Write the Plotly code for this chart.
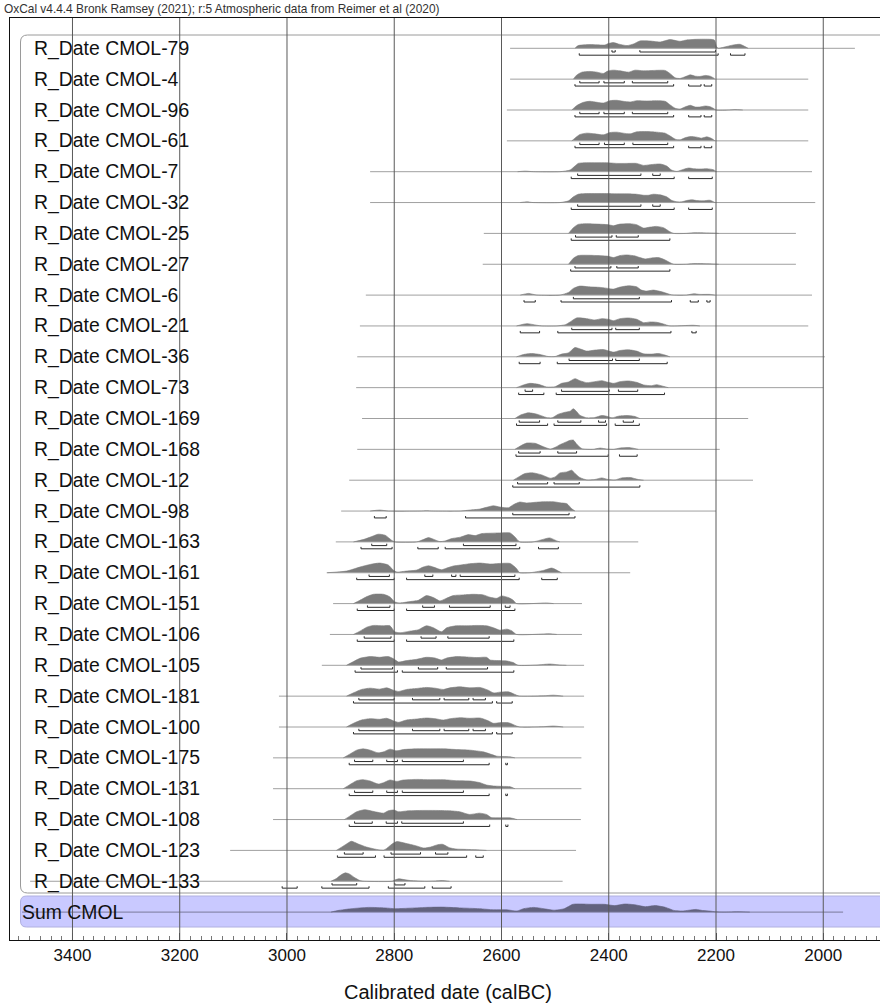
import plotly.graph_objects as go

# ---------------------------------------------------------------- data
names = [
    "R_Date CMOL-79", "R_Date CMOL-4", "R_Date CMOL-96", "R_Date CMOL-61",
    "R_Date CMOL-7", "R_Date CMOL-32", "R_Date CMOL-25", "R_Date CMOL-27",
    "R_Date CMOL-6", "R_Date CMOL-21", "R_Date CMOL-36", "R_Date CMOL-73",
    "R_Date CMOL-169", "R_Date CMOL-168", "R_Date CMOL-12", "R_Date CMOL-98",
    "R_Date CMOL-163", "R_Date CMOL-161", "R_Date CMOL-151", "R_Date CMOL-106",
    "R_Date CMOL-105", "R_Date CMOL-181", "R_Date CMOL-100", "R_Date CMOL-175",
    "R_Date CMOL-131", "R_Date CMOL-108", "R_Date CMOL-123", "R_Date CMOL-133",
]
sum_name = "Sum CMOL"

# extent of each likelihood (calBC)
line_from = [2584, 2584, 2590, 2590, 2845, 2845, 2633, 2635, 2853, 2864,
             2869, 2871, 2860, 2869, 2884, 2899, 2909, 2925, 2914, 2920,
             2935, 3015, 3015, 3026, 3026, 3026, 3106, 3479]
line_to = [1941, 2028, 2028, 2028, 2021, 2015, 2051, 2051, 2021, 2028,
           1997, 2000, 2140, 2193, 2131, 2200, 2345, 2360, 2450, 2450,
           2446, 2446, 2446, 2451, 2451, 2452, 2461, 2486]
sum_from, sum_to = 3494, 1963

# 68.2% highest posterior density ranges
hpd68 = [
    [(2394, 2388), (2342, 2201)],
    [(2454, 2418), (2409, 2371), (2356, 2290)],
    [(2454, 2418), (2409, 2371), (2356, 2290)],
    [(2454, 2418), (2408, 2371), (2355, 2290)],
    [(2458, 2340), (2318, 2304)],
    [(2458, 2340), (2318, 2304)],
    [(2462, 2394), (2386, 2345)],
    [(2463, 2396), (2385, 2345)],
    [(2466, 2343)],
    [(2469, 2394), (2387, 2343)],
    [(2474, 2393), (2387, 2343)],
    [(2556, 2542), (2488, 2399), (2382, 2346)],
    [(2567, 2529), (2495, 2452), (2419, 2406), (2373, 2354)],
    [(2568, 2528), (2495, 2460)],
    [(2570, 2514), (2502, 2455)],
    [(2579, 2474)],
    [(2842, 2814), (2671, 2573)],
    [(2847, 2809), (2743, 2728), (2693, 2685), (2677, 2575)],
    [(2850, 2808), (2747, 2725), (2697, 2621), (2593, 2584)],
    [(2856, 2806), (2750, 2722), (2700, 2623)],
    [(2862, 2803), (2755, 2719), (2703, 2626)],
    [(2866, 2800), (2766, 2715), (2707, 2661), (2653, 2630)],
    [(2866, 2800), (2766, 2715), (2707, 2661), (2653, 2630)],
    [(2874, 2840), (2814, 2794), (2785, 2671)],
    [(2874, 2840), (2814, 2794), (2785, 2671)],
    [(2874, 2841), (2815, 2794), (2786, 2671)],
    [(2893, 2858), (2806, 2751), (2723, 2700)],
    [(2916, 2870), (2799, 2780)],
]

# 95.4% highest posterior density ranges
hpd95 = [
    [(2455, 2196), (2173, 2146)],
    [(2463, 2279), (2251, 2228), (2222, 2208)],
    [(2463, 2279), (2251, 2228), (2222, 2208)],
    [(2463, 2279), (2251, 2228), (2222, 2208)],
    [(2470, 2278), (2251, 2207)],
    [(2470, 2278), (2251, 2207)],
    [(2470, 2286)],
    [(2471, 2286)],
    [(2558, 2537), (2489, 2283), (2248, 2233), (2217, 2211)],
    [(2565, 2529), (2495, 2284), (2245, 2237)],
    [(2567, 2528), (2496, 2291)],
    [(2568, 2521), (2498, 2296)],
    [(2572, 2514), (2502, 2404), (2388, 2343)],
    [(2573, 2401), (2380, 2347)],
    [(2579, 2342)],
    [(2837, 2815), (2667, 2463)],
    [(2862, 2804), (2756, 2718), (2705, 2566), (2531, 2494)],
    [(2870, 2800), (2777, 2567), (2525, 2496)],
    [(2869, 2800), (2777, 2575)],
    [(2869, 2800), (2777, 2577)],
    [(2873, 2794), (2785, 2577)],
    [(2876, 2617), (2609, 2580)],
    [(2876, 2617), (2609, 2580)],
    [(2884, 2623), (2592, 2589)],
    [(2884, 2623), (2592, 2589)],
    [(2884, 2622), (2592, 2588)],
    [(2906, 2835), (2819, 2665), (2648, 2634)],
    [(3009, 2981), (2935, 2847), (2811, 2743), (2729, 2694)],
]

# calibrated probability distributions: (calBC, relative probability)
prob = [
    [(2463, 0), (2457, 2.7), (2435, 3.7), (2407, 3.3), (2401, 4.7), (2391, 5.7), (2382, 4.3),
     (2366, 2.7), (2354, 4.3), (2342, 7.3), (2323, 7.3), (2304, 6.3), (2286, 8.7), (2267, 7),
     (2255, 8.3), (2236, 9), (2211, 9), (2203, 8.3), (2199, 1.7), (2196, 0), (2186, 1),
     (2168, 3.3), (2155, 4), (2146, 1.7), (2140, 0)],
    [(2466, 0), (2460, 4), (2450, 7), (2435, 7.7), (2422, 7), (2410, 5.7), (2401, 8.3), (2391, 9),
     (2379, 8.3), (2363, 7), (2351, 9), (2335, 8.3), (2317, 8.7), (2295, 8.7), (2286, 5.7),
     (2276, 1.3), (2267, 0.7), (2258, 2.3), (2248, 4.3), (2239, 3), (2230, 2.7), (2220, 3.7),
     (2211, 3), (2205, 1.3), (2202, 0)],
    [(2469, 0), (2460, 4.3), (2447, 7.7), (2435, 8.7), (2422, 7.7), (2410, 7), (2398, 9.3),
     (2385, 9.7), (2373, 8.7), (2360, 8), (2348, 9.3), (2329, 9), (2311, 9.3), (2295, 8.7),
     (2286, 5.3), (2276, 1.7), (2267, 1), (2258, 3), (2248, 4.7), (2239, 3), (2230, 3),
     (2220, 4), (2211, 3.3), (2205, 1.7), (2200, 0), (2175, 0), (2165, 0.4), (2150, 0)],
    [(2469, 0), (2463, 2.7), (2454, 6.3), (2441, 7.7), (2426, 7), (2410, 6), (2398, 8.3),
     (2385, 8.7), (2373, 7.7), (2360, 7), (2348, 9), (2329, 9.3), (2311, 8.7), (2295, 7.7),
     (2286, 5), (2276, 1.7), (2267, 1), (2258, 3), (2248, 4.3), (2236, 3.7), (2227, 2.7),
     (2217, 4), (2208, 2.3), (2202, 0)],
    [(2570, 0), (2556, 0.6), (2540, 0), (2491, 0), (2472, 1.7), (2463, 5.7), (2457, 8.3),
     (2441, 9), (2422, 9), (2404, 9), (2385, 8.3), (2366, 8.3), (2348, 8.3), (2335, 6.3),
     (2323, 7), (2304, 7.7), (2292, 5.7), (2283, 1.7), (2273, 0.3), (2261, 2.3), (2251, 3.7),
     (2242, 3), (2230, 2.7), (2217, 3), (2205, 2), (2199, 0)],
    [(2565, 0), (2553, 0.7), (2541, 0), (2491, 0), (2475, 1.7), (2466, 5.7), (2457, 8.3),
     (2441, 9), (2422, 9), (2404, 9), (2385, 8.7), (2366, 8.7), (2348, 8.3), (2335, 7.3),
     (2326, 7.3), (2317, 8.3), (2304, 7.7), (2292, 5.7), (2283, 2.3), (2273, 0.7), (2264, 0.7),
     (2255, 2), (2245, 2.7), (2236, 2), (2224, 1.7), (2211, 2.3), (2202, 0)],
    [(2475, 0), (2466, 5.7), (2457, 9), (2441, 9.7), (2422, 9.3), (2401, 8.7), (2391, 7.7),
     (2379, 9.3), (2360, 9.7), (2348, 8.7), (2335, 5.3), (2323, 6.3), (2311, 7), (2298, 5.7),
     (2286, 1.7), (2279, 0), (2255, 0), (2242, 0.7), (2205, 0.3), (2195, 0)],
    [(2475, 0), (2466, 6), (2457, 8.7), (2441, 9), (2422, 8.7), (2401, 8), (2391, 6.7),
     (2379, 8.7), (2366, 9.3), (2351, 8.3), (2342, 6.7), (2332, 5.3), (2320, 6.3), (2307, 6.7),
     (2295, 4.3), (2286, 1.7), (2279, 0), (2255, 0), (2242, 0.7), (2205, 0.3), (2195, 0)],
    [(2565, 0), (2550, 1.7), (2534, 0), (2491, 0), (2475, 2.7), (2466, 6.7), (2454, 9),
     (2438, 8.3), (2416, 7.7), (2401, 6.7), (2391, 6), (2379, 8), (2363, 9.3), (2348, 8.3),
     (2339, 5), (2329, 4), (2317, 5), (2301, 3.3), (2286, 0.7), (2279, 0), (2255, 0),
     (2242, 1.3), (2230, 0.7), (2211, 0.7), (2202, 0)],
    [(2572, 0), (2553, 2.3), (2534, 0.7), (2525, 0), (2497, 0), (2481, 1.3), (2472, 4),
     (2460, 8), (2441, 7.3), (2426, 6), (2413, 7.3), (2401, 6.7), (2391, 5.3), (2379, 7.3),
     (2363, 8), (2348, 6.7), (2335, 3.3), (2323, 4), (2311, 3.7), (2298, 2), (2286, 0),
     (2242, 0.7), (2230, 0)],
    [(2572, 0), (2559, 2.3), (2544, 3.3), (2528, 2.3), (2513, 0.3), (2500, 0.3), (2488, 2.7),
     (2475, 4), (2463, 9.3), (2454, 8), (2441, 5.7), (2426, 6.7), (2410, 7.3), (2401, 6),
     (2391, 4.7), (2379, 6.3), (2363, 7), (2348, 5.7), (2335, 3), (2320, 2.7), (2307, 3.3),
     (2295, 1.7), (2286, 0)],
    [(2572, 0), (2559, 2.7), (2547, 4.3), (2531, 3.3), (2516, 0.7), (2500, 1), (2488, 4.3),
     (2475, 5.7), (2463, 9), (2454, 7), (2441, 5), (2426, 6), (2413, 7), (2401, 5.3),
     (2391, 4.3), (2379, 6), (2363, 6.7), (2348, 5.3), (2335, 2.7), (2320, 2), (2311, 3),
     (2298, 1.3), (2289, 0)],
    [(2575, 0), (2565, 3.3), (2550, 5.7), (2534, 4.3), (2516, 1), (2506, 0.7), (2494, 4.3),
     (2481, 6.3), (2472, 7.3), (2466, 9.7), (2460, 7), (2454, 3.3), (2441, 0.7), (2426, 1),
     (2413, 3), (2404, 2.3), (2394, 0.7), (2382, 2.3), (2366, 3), (2351, 2), (2342, 0)],
    [(2575, 0), (2565, 3.3), (2553, 6.3), (2537, 6), (2525, 3.3), (2509, 0.3), (2500, 2),
     (2491, 4.7), (2478, 7.7), (2472, 9), (2466, 9.3), (2460, 5.3), (2450, 0.7), (2429, 0),
     (2416, 1.3), (2404, 0.3), (2391, 0), (2379, 1.3), (2360, 1.7), (2345, 0)],
    [(2578, 0), (2568, 3.3), (2556, 6.7), (2541, 7.3), (2525, 5.3), (2509, 2), (2500, 3.3),
     (2491, 7.3), (2478, 8.3), (2469, 10), (2463, 6.7), (2454, 2.7), (2441, 0.3), (2426, 0.7),
     (2413, 2.3), (2401, 0.7), (2388, 0.3), (2376, 2.3), (2360, 2.7), (2345, 0.7), (2335, 0)],
    [(2845, 0), (2827, 1), (2811, 0), (2752, 0), (2740, 0.3), (2727, 0), (2677, 0), (2659, 1),
     (2640, 2), (2628, 3.7), (2615, 5.3), (2603, 4), (2587, 3.3), (2578, 6.3), (2566, 9),
     (2553, 8), (2538, 8.7), (2522, 9.3), (2503, 9.3), (2491, 8.3), (2478, 7.3), (2469, 2.3),
     (2463, 0)],
    [(2876, 0), (2858, 2.3), (2842, 5.3), (2830, 7.7), (2817, 6.7), (2805, 1.7), (2799, 0),
     (2758, 0), (2746, 2.3), (2736, 4.3), (2727, 2.7), (2715, 0.3), (2705, 1), (2693, 3.3),
     (2677, 4.7), (2662, 7.3), (2649, 6.3), (2637, 8.3), (2621, 8.7), (2603, 9), (2584, 9),
     (2575, 5), (2566, 0), (2541, 0), (2528, 1.7), (2510, 4), (2497, 1), (2491, 0)],
    [(2926, 0), (2889, 1.7), (2864, 5.7), (2845, 8.3), (2827, 9.7), (2811, 7.7), (2802, 2.7),
     (2795, 0.7), (2777, 1.7), (2758, 2.7), (2746, 5.7), (2736, 7), (2727, 5.7), (2712, 3),
     (2702, 4.7), (2690, 6.7), (2677, 7.7), (2659, 9), (2640, 9.7), (2621, 8.7), (2603, 9.3),
     (2584, 9.3), (2572, 4.3), (2566, 0), (2547, 0), (2522, 2.3), (2506, 4.7), (2494, 1.7),
     (2488, 0)],
    [(2876, 0), (2864, 3.3), (2851, 7), (2839, 9.3), (2820, 9.3), (2808, 6.7), (2799, 1.7),
     (2789, 0.7), (2771, 2), (2755, 3.3), (2740, 8), (2727, 6), (2715, 2.7), (2705, 4.7),
     (2690, 8), (2671, 8.7), (2653, 9.3), (2634, 8.7), (2621, 6.3), (2609, 5.3), (2600, 7.7),
     (2587, 6), (2578, 3.3), (2572, 0), (2516, 0.7), (2503, 0)],
    [(2876, 0), (2864, 3.3), (2851, 7.3), (2839, 9), (2820, 8.7), (2808, 8.7), (2799, 2.7),
     (2789, 1.7), (2771, 3.3), (2755, 4.7), (2740, 8.7), (2727, 6.7), (2712, 2.7), (2702, 6.7),
     (2684, 8.7), (2665, 8.7), (2646, 9), (2628, 8.7), (2615, 6.7), (2603, 4.3), (2590, 5.3),
     (2581, 3.7), (2572, 0), (2510, 0.7), (2497, 0)],
    [(2889, 0), (2876, 3.7), (2864, 7), (2845, 8.7), (2827, 8), (2811, 8.7), (2802, 6.7),
     (2792, 3.3), (2777, 4.7), (2758, 6), (2740, 8), (2724, 7.3), (2712, 5.3), (2702, 7.3),
     (2684, 8.7), (2665, 8.3), (2646, 7.7), (2628, 8), (2621, 5.3), (2606, 4.7), (2590, 4.3),
     (2578, 2.7), (2569, 0), (2534, 0.3), (2510, 1.3), (2491, 0.3), (2479, 0)],
    [(2889, 0), (2876, 3.3), (2861, 6.7), (2845, 8), (2827, 7), (2814, 8.3), (2802, 6),
     (2792, 4.7), (2777, 6.7), (2758, 7.7), (2740, 8.7), (2724, 8), (2708, 6.7), (2696, 8.3),
     (2677, 9.3), (2659, 8.3), (2640, 8.7), (2625, 6), (2615, 3.3), (2603, 4), (2587, 4.3),
     (2572, 1), (2566, 0), (2522, 0.3), (2503, 1), (2485, 0)],
    [(2889, 0), (2876, 3.7), (2861, 7), (2845, 8.3), (2827, 7.7), (2814, 8.7), (2802, 6.3),
     (2792, 4.7), (2777, 7), (2758, 8), (2740, 9), (2724, 8.3), (2708, 7), (2696, 8.3),
     (2677, 9.3), (2659, 8.7), (2640, 9), (2625, 6.3), (2615, 3.7), (2603, 4.3), (2587, 4.3),
     (2572, 1), (2566, 0), (2522, 0.3), (2503, 1), (2485, 0)],
    [(2895, 0), (2883, 3.7), (2870, 7.7), (2858, 9), (2845, 7.7), (2830, 5), (2820, 6),
     (2808, 8.7), (2795, 7), (2783, 8.3), (2758, 9), (2733, 9), (2708, 9), (2684, 8.3),
     (2659, 7.7), (2634, 6), (2618, 3.3), (2609, 1.7), (2597, 1.3), (2584, 1), (2575, 0)],
    [(2895, 0), (2883, 4), (2870, 8), (2858, 9), (2845, 7.7), (2830, 4.7), (2820, 6),
     (2808, 8.7), (2795, 7.3), (2783, 8.7), (2758, 9.3), (2733, 9), (2708, 9), (2684, 8),
     (2659, 7.7), (2640, 6), (2628, 3.7), (2615, 2.7), (2597, 2.3), (2584, 2), (2575, 0)],
    [(2893, 0), (2883, 3.4), (2870, 7.8), (2855, 9.8), (2836, 7.8), (2820, 6.4), (2811, 8.8),
     (2801, 9.5), (2792, 7.8), (2773, 8.8), (2748, 9.1), (2723, 9.1), (2697, 8.8), (2678, 7.8),
     (2660, 5.1), (2641, 6.4), (2628, 5.1), (2619, 2), (2603, 1.7), (2584, 1.7), (2571, 0)],
    [(2908, 0), (2899, 3), (2889, 6.4), (2880, 9.1), (2867, 6.4), (2852, 3.4), (2833, 1),
     (2820, 0.3), (2814, 2), (2804, 6.4), (2795, 8.8), (2779, 7.1), (2760, 4.7), (2745, 2.4),
     (2732, 3.4), (2719, 5.7), (2710, 6.1), (2697, 2.7), (2685, 1.4), (2666, 1), (2647, 0.7),
     (2628, 0)],
    [(2918, 0), (2908, 2.7), (2899, 6.4), (2891, 8.4), (2883, 7.1), (2874, 3.7), (2864, 0.7),
     (2855, 0), (2804, 0), (2798, 1.4), (2792, 2.4), (2782, 1.7), (2770, 0.7), (2741, 0),
     (2723, 0.3), (2710, 0.7), (2697, 0)],
]

sum_prob = [
    (2918, 0), (2905, 1.6), (2880, 3.4), (2848, 4.7), (2817, 4.2), (2798, 3.4), (2773, 3.9),
    (2741, 4.7), (2710, 5.0), (2678, 4.2), (2641, 3.4), (2615, 2.3), (2590, 2.3), (2571, 1.1),
    (2559, 3.4), (2540, 4.7), (2521, 3.4), (2502, 1.9), (2483, 3.4), (2467, 7.8), (2452, 8.1),
    (2433, 7.8), (2408, 7.8), (2389, 6.5), (2370, 8.1), (2351, 7.3), (2332, 5.4), (2313, 6.5),
    (2294, 4.7), (2278, 1.6), (2263, 1.1), (2250, 1.9), (2237, 2.7), (2225, 1.6), (2212, 1.1),
    (2201, 0.3), (2187, 0), (2156, 0.3), (2137, 0),
]

tick_years = [3400, 3200, 3000, 2800, 2600, 2400, 2200, 2000]
header = "OxCal v4.4.4 Bronk Ramsey (2021); r:5 Atmospheric data from Reimer et al (2020)"
x_title = "Calibrated date (calBC)"

# ---------------------------------------------------------------- layout geometry
W, H = 880, 1007
PL, PR, PT, PB = 10, 880, 18, 940            # plot area edges (px)
ROW0_PX, ROW_PX = 48.3, 30.85                 # first baseline, row pitch (px)
X_LEFT, X_RIGHT = 3516.5, 1894.2              # calBC at left / right edge
Y_TOP = (PT - ROW0_PX) / ROW_PX
Y_BOT = (PB - ROW0_PX) / ROW_PX
H68, H95, TICK = 3.7 / ROW_PX, 6.9 / ROW_PX, 1.9 / ROW_PX

FONT = "Liberation Sans, Arial, Helvetica, sans-serif"
DENS_COL = "#7c7c7c"
LINE_COL = "#a0a0a0"


def px_x(px):
    return (px - PL) / (PR - PL)


def px_y(py):
    return (PB - py) / (PB - PT)


fig = go.Figure()


def add_row(row, x0, x1, dens, color, line_color, line_w=1.0):
    fig.add_trace(go.Scatter(x=[x0, x1], y=[row, row], mode="lines",
                             line=dict(color=line_color, width=line_w),
                             hoverinfo="skip", showlegend=False))
    xs = [p[0] for p in dens]
    ys = [row - p[1] / ROW_PX for p in dens]
    fig.add_trace(go.Scatter(x=xs, y=ys, mode="lines", fill="tonexty",
                             fillcolor=color, line=dict(color=color, width=0.6,
                                                        shape="spline", smoothing=0.6),
                             hoverinfo="skip", showlegend=False))


for i, name in enumerate(names):
    add_row(i, line_from[i], line_to[i], prob[i], DENS_COL, LINE_COL)

sum_row = len(names)
add_row(sum_row, sum_from, sum_to, sum_prob, "#62627e", "#7a7a9a")

# HPD brackets
bx, by = [], []
for i in range(len(names)):
    for ranges, off in ((hpd68[i], H68), (hpd95[i], H95)):
        for a, b in ranges:
            yb = i + off
            bx += [a, a, b, b, None]
            by += [yb - TICK, yb, yb, yb - TICK, None]
fig.add_trace(go.Scatter(x=bx, y=by, mode="lines", line=dict(color="#2a2a2a", width=1),
                         hoverinfo="skip", showlegend=False))

# labels
for i, name in enumerate(names):
    fig.add_annotation(x=px_x(32), xref="paper", y=i, yref="y", text=name,
                       showarrow=False, xanchor="left", yanchor="middle",
                       font=dict(family=FONT, size=19.4, color="#111"))
fig.add_annotation(x=px_x(20), xref="paper", y=sum_row, yref="y", text=sum_name,
                   showarrow=False, xanchor="left", yanchor="middle",
                   font=dict(family=FONT, size=19.4, color="#111"))

fig.add_annotation(x=px_x(2), xref="paper", y=px_y(9), yref="paper", text=header,
                   showarrow=False, xanchor="left", yanchor="middle",
                   font=dict(family=FONT, size=11.9, color="#333"))
fig.add_annotation(x=px_x(448), xref="paper", y=px_y(992), yref="paper", text=x_title,
                   showarrow=False, xanchor="center", yanchor="middle",
                   font=dict(family=FONT, size=20, color="#111"))


def rounded_left(x0, y0, x1, y1, r):
    """Path of a box whose left corners are rounded (pixel input -> paper)."""
    p = [
        f"M {px_x(x1)} {px_y(y0)}",
        f"L {px_x(x0 + r)} {px_y(y0)}",
        f"Q {px_x(x0)} {px_y(y0)} {px_x(x0)} {px_y(y0 + r)}",
        f"L {px_x(x0)} {px_y(y1 - r)}",
        f"Q {px_x(x0)} {px_y(y1)} {px_x(x0 + r)} {px_y(y1)}",
        f"L {px_x(x1)} {px_y(y1)}",
    ]
    return " ".join(p)


# group outline and Sum band
fig.add_shape(type="path", xref="paper", yref="paper",
              path=rounded_left(20.5, 35, 900, 893, 7),
              line=dict(color="#9a9a9a", width=1), layer="below")
fig.add_shape(type="path", xref="paper", yref="paper",
              path=rounded_left(20.5, 896, 900, 927, 6) + " Z",
              fillcolor="#c9c9ff", line=dict(color="#b0b0e0", width=1), layer="below")

# vertical grid above the marks
for t in tick_years:
    fig.add_shape(type="line", x0=t, x1=t, xref="x", y0=0, y1=1, yref="paper",
                  line=dict(color="#5a5a5a", width=1), layer="above")

fig.update_xaxes(range=[X_LEFT, X_RIGHT], showgrid=False, zeroline=False,
                 showline=True, mirror=True, linecolor="#111", linewidth=1,
                 tickmode="array", tickvals=tick_years,
                 ticktext=[str(t) for t in tick_years],
                 ticks="inside", ticklen=7, tickcolor="#444",
                 minor=dict(dtick=20, tick0=0, ticks="inside", ticklen=4,
                            tickcolor="#777", showgrid=False),
                 tickfont=dict(family=FONT, size=17, color="#111"))
fig.update_yaxes(range=[Y_BOT, Y_TOP], showgrid=False, zeroline=False,
                 showline=True, mirror=False, linecolor="#111", linewidth=1,
                 showticklabels=False, ticks="")

fig.update_layout(width=W, height=H, paper_bgcolor="white", plot_bgcolor="white",
                  margin=dict(l=PL, r=W - PR, t=PT, b=H - PB, autoexpand=False),
                  showlegend=False)

fig.write_html("out.html")
